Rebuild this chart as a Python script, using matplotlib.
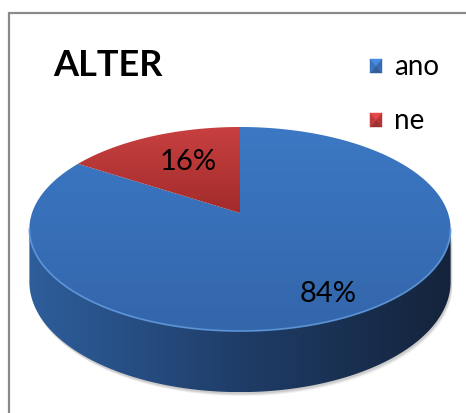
import numpy as np
import matplotlib
matplotlib.use("Agg")
import matplotlib.pyplot as plt
from matplotlib.patches import Polygon
from matplotlib.colors import LinearSegmentedColormap

# data
title = "ALTER"
labels = ["ano", "ne"]
values = [84, 16]

# colours
top_colors = [("#3c78c4", "#3366ab"), ("#c84040", "#a32b2b")]
side_colors = ["#2e5e9c", "#1f3d68", "#14233b"]
legend_colors = ["#3a72bd", "#c0393b"]

plt.rcParams["font.family"] = ["Lato", "DejaVu Sans"]

# pie geometry (pixel coords, y pointing down) with a bit of perspective
CX, CY = 240, 213
RX, RY = 208, 99.5
K = 0.157
DEPTH = 51.5


def proj(theta, r=1.0):
    u = r * np.cos(theta)
    v = r * np.sin(theta)
    s = 1.0 / (1.0 + K * v)
    return CX + RX * u * s, CY - RY * v * s, s


fig = plt.figure(figsize=(4.66, 4.13), dpi=100)
ax = fig.add_axes([0, 0, 1, 1])
ax.axis("off")


def grad_fill(pts, c0, c1, vertical=True, mid=None, z=1):
    poly = Polygon(pts, closed=True, facecolor="none", edgecolor="none", zorder=z)
    ax.add_patch(poly)
    xs, ys = pts[:, 0], pts[:, 1]
    cols = [c0, mid, c1] if mid else [c0, c1]
    cmap = LinearSegmentedColormap.from_list("g", cols)
    g = np.linspace(0, 1, 256)
    if vertical:
        img = g[:, None]
    else:
        img = g[None, :]
    im = ax.imshow(img, cmap=cmap, aspect="auto", origin="upper",
                   extent=(xs.min(), xs.max(), ys.max(), ys.min()), zorder=z,
                   interpolation="bilinear")
    im.set_clip_path(poly)


# soft shadow under the pie
a_left = np.pi + np.arcsin(K)
a_right = 2 * np.pi - np.arcsin(K)
th = np.linspace(a_left, a_right, 200)
x_t, y_t, s_t = proj(th)
bottom = np.column_stack([x_t, y_t + DEPTH * s_t])
for i, al in enumerate([0.05, 0.07, 0.09]):
    off = 4 - i
    pts = np.vstack([np.column_stack([x_t, y_t]) + [off * 0.5, off],
                     (bottom + [off * 0.5, off])[::-1]])
    ax.add_patch(Polygon(pts, closed=True, facecolor="black", edgecolor="none",
                         alpha=al, zorder=0.5))

# side of the cylinder (front part, all of it "ano")
side = np.vstack([np.column_stack([x_t, y_t]), bottom[::-1]])
grad_fill(side, side_colors[0], side_colors[2], vertical=False,
          mid=side_colors[1], z=1)

# top wedges, clockwise from 12 o'clock
start = 90.0
for val, (c0, c1) in zip(values, top_colors):
    end = start - val / sum(values) * 360
    th_w = np.radians(np.linspace(start, end, 200))
    xw, yw, _ = proj(th_w)
    pts = np.vstack([[CX, CY], np.column_stack([xw, yw])])
    grad_fill(pts, c0, c1, vertical=True, z=2)
    start = end

# light rim along the front edge
ax.plot(x_t, y_t, color="#5f98dc", lw=1.3, alpha=0.85, zorder=3,
        solid_capstyle="round")

# percentage labels
start = 90.0
for val, rr in zip(values, [0.8, 0.6]):
    span = val / sum(values) * 360
    mid = np.radians(start - span / 2)
    lx, ly, _ = proj(mid, rr)
    ax.text(lx + (4 if val < 50 else -2), ly + (-3 if val < 50 else 3),
            f"{val}%", fontsize=21, ha="center", va="center",
            color="black", zorder=4)
    start -= span

# title
ax.text(53, 66, title, fontsize=26, fontweight="bold", ha="left",
        va="center", zorder=4)

# legend with bevelled squares
for i, (lab, col) in enumerate(zip(labels, legend_colors)):
    x0, y0, w, h = 370, 59 + i * 54, 12, 14
    cx, cy = x0 + w / 2, y0 + h / 2
    corners = [(x0, y0), (x0 + w, y0), (x0 + w, y0 + h), (x0, y0 + h)]
    shades = [1.22, 0.95, 0.82, 1.0]
    base = np.array(matplotlib.colors.to_rgb(col))
    for j in range(4):
        tri = [corners[j], corners[(j + 1) % 4], (cx, cy)]
        c = np.clip(base * shades[j], 0, 1)
        ax.add_patch(Polygon(tri, closed=True, facecolor=c, edgecolor=c,
                             lw=0.3, zorder=4))
    ax.text(394, cy + 1, lab, fontsize=20, ha="left", va="center", zorder=4)

# chart frame (cut by the image edge)
ax.plot([9, 9, 470], [420, 13, 13], color="#8a8a8a", lw=1.6, zorder=5,
        solid_joinstyle="miter")

ax.set_xlim(0, 466)
ax.set_ylim(413, 0)
fig.savefig("out.png", dpi=100)
